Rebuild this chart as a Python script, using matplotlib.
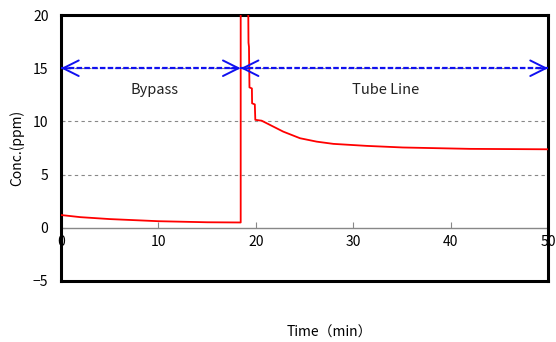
import matplotlib
matplotlib.use("Agg")
import matplotlib.pyplot as plt

plt.rcParams['font.family'] = ['Noto Sans CJK JP', 'DejaVu Sans']

# Data
t_bypass = [0, 2, 5, 10, 15, 18.45]
c_bypass = [1.2, 1.0, 0.82, 0.62, 0.52, 0.5]
t_tube = [18.45, 19.15, 19.25, 19.3, 19.35, 19.6, 19.62, 19.9, 19.95, 20.6,
          21.46, 22.82, 24.54, 26.25, 27.96, 31.4, 35.1, 42, 50]
c_tube = [30, 30, 17.4, 17.0, 13.2, 13.1, 11.7, 11.6, 10.15, 10.07,
          9.67, 9.04, 8.42, 8.1, 7.89, 7.7, 7.55, 7.42, 7.38]
x_ticks = [0, 10, 20, 30, 40, 50]
y_ticks = [-5, 0, 5, 10, 15, 20]
grid_levels = [5, 10, 15]
switch_time = 18.45
arrow_level = 15
region_labels = ["Bypass", "Tube Line"]
region_label_x = [9.6, 33.3]
region_label_y = 13.0

fig = plt.figure(figsize=(5.56, 3.42), dpi=100)
ax = fig.add_axes([0.1097, 0.1784, 0.8759, 0.7776])
ax.set_xlim(0, 50)
ax.set_ylim(-5, 20)

for g in grid_levels:
    ax.axhline(g, color='#888888', lw=0.8, ls=(0, (3, 3)), zorder=1)
ax.axhline(0, color='#888888', lw=1.0, zorder=1)

ax.plot(t_bypass + t_tube, c_bypass + c_tube, color='red', lw=1.3, zorder=3)

# arrows
blue = '#1010f0'
ax.plot([0, 50], [arrow_level, arrow_level], color=blue, lw=1.6,
        ls=(0, (2.5, 1)), zorder=4)
for tip, tail in [(0, 1), (switch_time, switch_time - 1),
                  (switch_time, switch_time + 1), (50, 49)]:
    ax.annotate('', xy=(tip, arrow_level), xytext=(tail, arrow_level),
                arrowprops=dict(arrowstyle='->', color=blue, lw=1.4,
                                mutation_scale=28, shrinkA=0, shrinkB=0),
                zorder=5, annotation_clip=False)

for lab, lx in zip(region_labels, region_label_x):
    ax.text(lx, region_label_y, lab, ha='center', va='center', fontsize=10.5,
            color='#222222')

# axes style
for s in ax.spines.values():
    s.set_linewidth(2.2)
    s.set_color('black')
ax.set_xticks([])
ax.set_yticks(y_ticks)
ax.tick_params(axis='y', direction='in', length=3, color='#888888',
               labelsize=10, pad=9)

sec = ax.secondary_xaxis(0.2)
sec.set_xticks(x_ticks)
sec.spines['bottom'].set_visible(False)
sec.tick_params(axis='x', direction='in', length=4, color='#888888',
                labelsize=10, pad=5)

ax.set_ylabel('Conc.(ppm)', fontsize=10, labelpad=6)
fig.text(0.593, 0.026, 'Time（min）', ha='center', va='center', fontsize=10)

fig.savefig('out.png', dpi=100)
